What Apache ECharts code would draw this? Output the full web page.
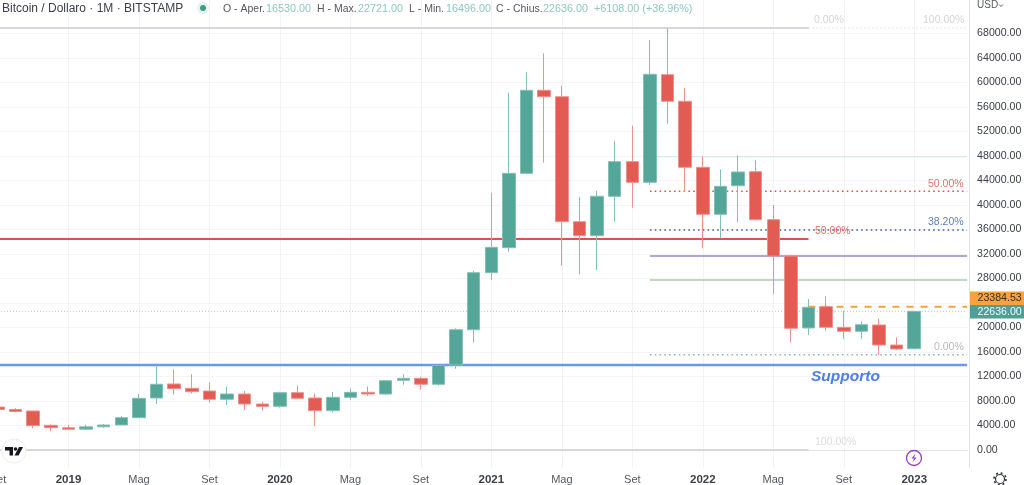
<!DOCTYPE html>
<html>
<head>
<meta charset="utf-8">
<title>Bitcoin / Dollaro</title>
<script src="https://cdn.jsdelivr.net/npm/echarts@6/dist/echarts.min.js"></script>
<style>
    html, body { margin: 0; padding: 0; background: #fff; }
    #chart { width: 1024px; height: 485px; }
</style>
</head>
<body>
<div id="chart"></div>
<script>
// monthly candles, Sep 2018 .. Jan 2023, then three empty months on the right
const months = [
    'Set', 'Ott', 'Nov', 'Dic',
    '2019', 'Feb', 'Mar', 'Apr', 'Mag', 'Giu', 'Lug', 'Ago', 'Set', 'Ott', 'Nov', 'Dic',
    '2020', 'Feb', 'Mar', 'Apr', 'Mag', 'Giu', 'Lug', 'Ago', 'Set', 'Ott', 'Nov', 'Dic',
    '2021', 'Feb', 'Mar', 'Apr', 'Mag', 'Giu', 'Lug', 'Ago', 'Set', 'Ott', 'Nov', 'Dic',
    '2022', 'Feb', 'Mar', 'Apr', 'Mag', 'Giu', 'Lug', 'Ago', 'Set', 'Ott', 'Nov', 'Dic',
    '2023', 'Feb', 'Mar', 'Apr'
];
const opens = [
    7020, 6610, 6370, 4030,
    3640, 3400, 3780, 4080, 5280, 8490, 10780, 10070, 9630, 8280, 9140, 7510,
    7130, 9360, 8490, 6420, 8600, 9420, 9140, 11380, 11700, 10730, 13880, 19640,
    28950, 33030, 45170, 58730, 57680, 37280, 34990, 41420, 47080, 43700, 61280, 56930,
    46150, 38480, 43150, 45440, 37600, 31670, 19920, 23400, 20030, 19380, 20410, 17140,
    16530
];
const closes = [
    6620, 6290, 3970, 3640,
    3380, 3780, 4080, 5280, 8440, 10730, 10010, 9520, 8280, 9140, 7510, 7120,
    9360, 8440, 6420, 8600, 9420, 9140, 11310, 11700, 10730, 13830, 19640, 28950,
    33090, 45170, 58730, 57680, 37280, 34990, 41420, 47080, 43700, 61340, 56930, 46150,
    38480, 43050, 45390, 37600, 31670, 19870, 23300, 20030, 19380, 20460, 17140, 16490,
    22636
];
const lows = [
    6200, 6150, 3540, 3150,
    3270, 3270, 3600, 4080, 5280, 7510, 9030, 9250, 7720, 7350, 6530, 6420,
    6910, 8440, 3870, 6150, 8210, 8820, 8980, 10660, 9850, 10500, 13270, 17520,
    27750, 32380, 45000, 46910, 30090, 28680, 29390, 37280, 39560, 43270, 53270, 42170,
    32930, 34560, 37170, 37600, 25420, 17580, 18770, 19480, 18120, 18120, 15510, 16330,
    16496
];
const highs = [
    7400, 6860, 6370, 4190,
    4130, 4130, 4240, 5550, 9140, 13880, 13170, 12360, 10990, 10340, 9630, 7840,
    9520, 10500, 9250, 9470, 10070, 10400, 11430, 12360, 11970, 13830, 19870, 29270,
    42010, 58340, 61710, 64770, 59480, 41310, 42340, 50500, 52950, 66940, 68850, 59050,
    47950, 45830, 48110, 47350, 40000, 31890, 24650, 25090, 22740, 21010, 21440, 18400,
    22721
];

// price axis
const priceTicks = [0, 4000, 8000, 12000, 16000, 20000, 24000, 28000, 32000, 36000,
    40000, 44000, 48000, 52000, 56000, 60000, 64000, 68000];
const priceMin = -2939;
const priceMax = 73469;

// drawn levels: price, first month index, last month index
const supportLevel = [13880, 0, 55];
const resistanceLevel = [34450, 0, 46];
const fibTopLevel = [68900, 0, 46];
const fibTopDotted = [68900, 46, 55];
const fibBottomLevel = [0, 0, 46];
const fibRedDotted = [42240, 37, 55];
const fibBlueDotted = [35920, 37, 55];
const fibPurple = [31670, 37, 55];
const fibGreen = [27760, 37, 55];
const fibPale = [47900, 37, 55];
const fibLowDotted = [15560, 37, 55];
const lastPriceLevel = [22636, 0, 55];
const orangeLevel = [23384.53, 46, 55];

const FONT = '"Liberation Sans", Arial, sans-serif';
const UP = '#53a698';
const DOWN = '#e25c54';

function level(lv, color, width, type) {
    return {
        type: 'line',
        data: [[lv[1], lv[0]], [lv[2], lv[0]]],
        showSymbol: false,
        silent: true,
        animation: false,
        clip: false,
        z: 1,
        lineStyle: { color: color, width: width, type: type || 'solid' }
    };
}

function txt(x, y, text, color, size, extra) {
    return {
        type: 'text',
        x: x,
        y: y,
        z: 50,
        style: Object.assign({
            text: text, fill: color, font: size + 'px ' + FONT,
            textVerticalAlign: 'middle'
        }, extra || {})
    };
}

const dark = '#3d4048';
const soft = '#8cc9bd';

const chrome = [
    // header
    txt(2, 8.5, 'Bitcoin / Dollaro · 1M · BITSTAMP', dark, 12),
    { type: 'circle', z: 50, shape: { cx: 203, cy: 8, r: 6 }, style: { fill: '#e6f3f0' } },
    { type: 'circle', z: 51, shape: { cx: 203, cy: 8, r: 3 }, style: { fill: '#3f9a84' } },
    txt(223, 9.5, 'O - Aper.', '#55585f', 10.5),
    txt(266, 9.5, '16530.00', soft, 10.8),
    txt(317, 9.5, 'H - Max.', '#55585f', 10.5),
    txt(358, 9.5, '22721.00', soft, 10.8),
    txt(409, 9.5, 'L - Min.', '#55585f', 10.5),
    txt(446, 9.5, '16496.00', soft, 10.8),
    txt(496, 9.5, 'C - Chius.', '#55585f', 10.5),
    txt(543, 9.5, '22636.00', soft, 10.8),
    txt(594, 9.5, '+6108.00 (+36.96%)', soft, 10.8),
    txt(977, 5.5, 'USD', '#55585f', 10),
    { type: 'polyline', z: 50, shape: { points: [[999, 4.5], [1001, 6.5], [1003, 4.5]] }, style: { stroke: '#55585f', fill: null, lineWidth: 1 } },

    // fib and level labels
    txt(814, 20.5, '0.00%', '#d4d5d8', 10.5),
    txt(923, 20.5, '100.00%', '#d4d5d8', 10.5),
    txt(928, 184, '50.00%', '#e2726c', 10.5),
    txt(928, 222, '38.20%', '#5f7fc0', 10.5),
    txt(815, 231.5, '50.00%', '#e2726c', 10.5),
    txt(934, 347, '0.00%', '#b8babd', 10.5),
    txt(815, 442.5, '100.00%', '#dcdde0', 10.5),
    txt(811, 377, 'Supporto', '#4c7df0', 15.5, { font: 'italic bold 15.5px ' + FONT }),

    // price tags on the axis
    { type: 'rect', z: 40, shape: { x: 970, y: 291.5, width: 54, height: 13.5 }, style: { fill: '#f6a23f' } },
    txt(977.5, 298.5, '23384.53', '#3a3020', 10.6),
    { type: 'rect', z: 40, shape: { x: 970, y: 305, width: 54, height: 13.5 }, style: { fill: '#4f9f92' } },
    txt(977.5, 312, '22636.00', '#eef7f5', 10.6),

    // tradingview badge
    { type: 'circle', z: 40, shape: { cx: 14, cy: 451, r: 12 }, style: { fill: '#fff', stroke: '#eeeeee', lineWidth: 1 } },
    { type: 'polygon', z: 41, shape: { points: [[5, 447], [13, 447], [13, 455.5], [9.5, 455.5], [9.5, 450.5], [5, 450.5]] }, style: { fill: '#16181d' } },
    { type: 'circle', z: 41, shape: { cx: 15.5, cy: 449, r: 1.8 }, style: { fill: '#16181d' } },
    { type: 'polygon', z: 41, shape: { points: [[19, 447], [23, 447], [18.5, 455.5], [14.5, 455.5]] }, style: { fill: '#16181d' } },

    // purple marker near 2023
    { type: 'circle', z: 40, shape: { cx: 914, cy: 458, r: 7.5 }, style: { fill: '#fff', stroke: '#9c3fc4', lineWidth: 1.3 } },
    { type: 'polygon', z: 41, shape: { points: [[915.5, 453.5], [911.5, 458.5], [914, 458.5], [912.5, 462.5], [916.5, 457.5], [914, 457.5]] }, style: { fill: '#9c3fc4' } },

    // settings gear
    { type: 'circle', z: 40, shape: { cx: 1000, cy: 479, r: 4.5 }, style: { fill: '#fff', stroke: '#30333a', lineWidth: 1.2 } },
    { type: 'circle', z: 39, shape: { cx: 1000, cy: 479, r: 6 }, style: { fill: null, stroke: '#30333a', lineWidth: 1.6, lineDash: [2, 2.7] } }
];

const chart = echarts.init(document.getElementById('chart'), null, { renderer: 'canvas' });

chart.setOption({
    animation: false,
    backgroundColor: '#fff',
    grid: { left: -2, right: 56.9, top: 0, bottom: 17, containLabel: false, outerBoundsMode: 'none' },
    xAxis: {
        type: 'category',
        data: months,
        boundaryGap: false,
        axisLine: { show: true, lineStyle: { color: '#e0e3eb', width: 1 } },
        axisTick: { show: false },
        axisLabel: {
            interval: 3,
            margin: 6,
            color: '#55585f',
            fontFamily: FONT,
            fontSize: 11,
            showMinLabel: true,
            hideOverlap: false,
            formatter: function (v) {
                return /^\d{4}$/.test(v) ? '{year|' + v + '}' : v;
            },
            rich: { year: { fontWeight: 'bold', color: '#3d4048', fontSize: 11.5, fontFamily: FONT } }
        },
        splitLine: { show: true, interval: 3, lineStyle: { color: '#f2f3f5', width: 1 } }
    },
    yAxis: {
        type: 'value',
        position: 'right',
        offset: 2,
        min: priceMin,
        max: priceMax,
        axisLine: { show: true, lineStyle: { color: '#e0e3eb', width: 1 } },
        axisTick: { show: false, customValues: priceTicks },
        axisLabel: {
            customValues: priceTicks,
            margin: 8,
            color: '#3d4048',
            fontFamily: FONT,
            fontSize: 10.6,
            formatter: function (v) { return v.toFixed(2); }
        },
        splitLine: { show: true, lineStyle: { color: '#f4f5f7', width: 1 } }
    },
    graphic: { elements: chrome },
    series: [
        level(lastPriceLevel, '#a9cfc8', 1, [1, 2]),
        level(fibPale, '#d3ece8', 1.2),
        level(fibTopLevel, '#d5d7da', 2),
        level(fibTopDotted, '#c4c6ca', 1, [1, 3]),
        level(fibBottomLevel, '#cfd0d3', 1.5),
        level(fibRedDotted, '#e0504a', 1.6, [1.6, 3.2]),
        level(fibBlueDotted, '#4358a8', 1.6, [1.6, 3.2]),
        level(fibPurple, '#5f51ab', 1.1),
        level(fibGreen, '#86b088', 1.1),
        level(fibLowDotted, '#94b8b1', 1.6, [1.6, 3.2]),
        level(resistanceLevel, '#df514c', 2),
        level(supportLevel, '#6a96f4', 2.3),
        level(orangeLevel, '#f6a23f', 2, [7, 7]),
        {
            type: 'candlestick',
            data: opens.map((o, i) => [o, closes[i], lows[i], highs[i]]),
            barWidth: 13,
            clip: false,
            silent: true,
            z: 5,
            itemStyle: {
                color: UP,
                color0: DOWN,
                borderColor: '#84c0b5',
                borderColor0: '#ec928c',
                borderWidth: 1
            }
        }
    ]
});
</script>
</body>
</html>
